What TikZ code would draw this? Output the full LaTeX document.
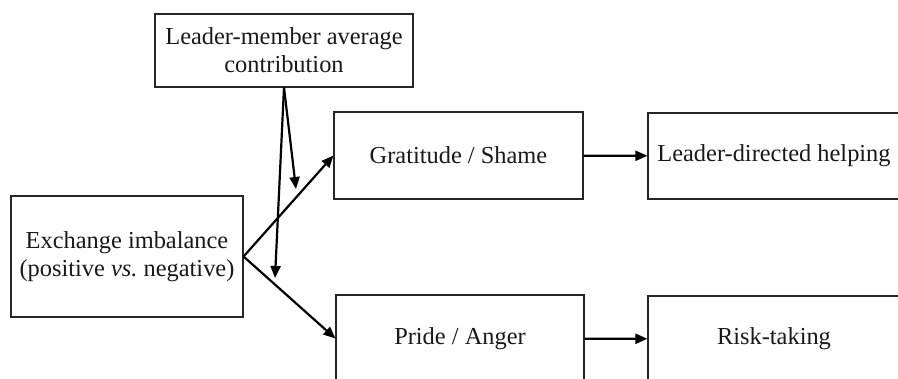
\documentclass[tikz,border=0pt]{standalone}
\usepackage{fontspec}
\setmainfont{Liberation Serif}
\usetikzlibrary{arrows.meta}

\begin{document}
\begin{tikzpicture}[
  x=1pt, y=-1pt,
  font=\fontsize{24.4}{28}\selectfont,
  >={Triangle[length=12pt,width=10pt]},
  every node/.style={inner sep=0pt, text=black!90},
  box/.style={draw=black!85, line width=1.1pt, align=center},
  flow/.style={draw=black, line width=2.2pt, ->},
]
\useasboundingbox (0,0) rectangle (898,379);
\clip (0,0) rectangle (898,379);

% ---------------- nodes ----------------
\node[box, minimum width=258pt, minimum height=73pt] (avg)  at (284,50.5)  {Leader-member average\\contribution};
\node[box, minimum width=232pt, minimum height=121pt] (exch) at (127,256.5) {Exchange imbalance\\(positive \textit{vs.}\ negative)};
\node[box, minimum width=249pt, minimum height=87pt] (grat) at (458.5,155.5) {Gratitude / Shame};
\node[box, minimum width=248pt, minimum height=87pt] (pride) at (460,338.5) {Pride / Anger};
\node[box, minimum width=252pt, minimum height=86pt] (help) at (774,156)   {Leader-directed helping};
\node[box, minimum width=252pt, minimum height=86pt] (risk) at (774,339)   {Risk-taking};

% moderator targets on the two paths
\coordinate (m1) at (296,189);
\coordinate (m2) at (275,278);

% ---------------- connectors ----------------
\draw[flow] (exch.east) -- (grat.west);
\draw[flow] (exch.east) -- (pride.west);
\draw[flow] (grat) -- (help);
\draw[flow] (pride) -- (risk);
\draw[flow] (avg.south) -- (m1);
\draw[flow] (avg.south) -- (m2);

\end{tikzpicture}
\end{document}
